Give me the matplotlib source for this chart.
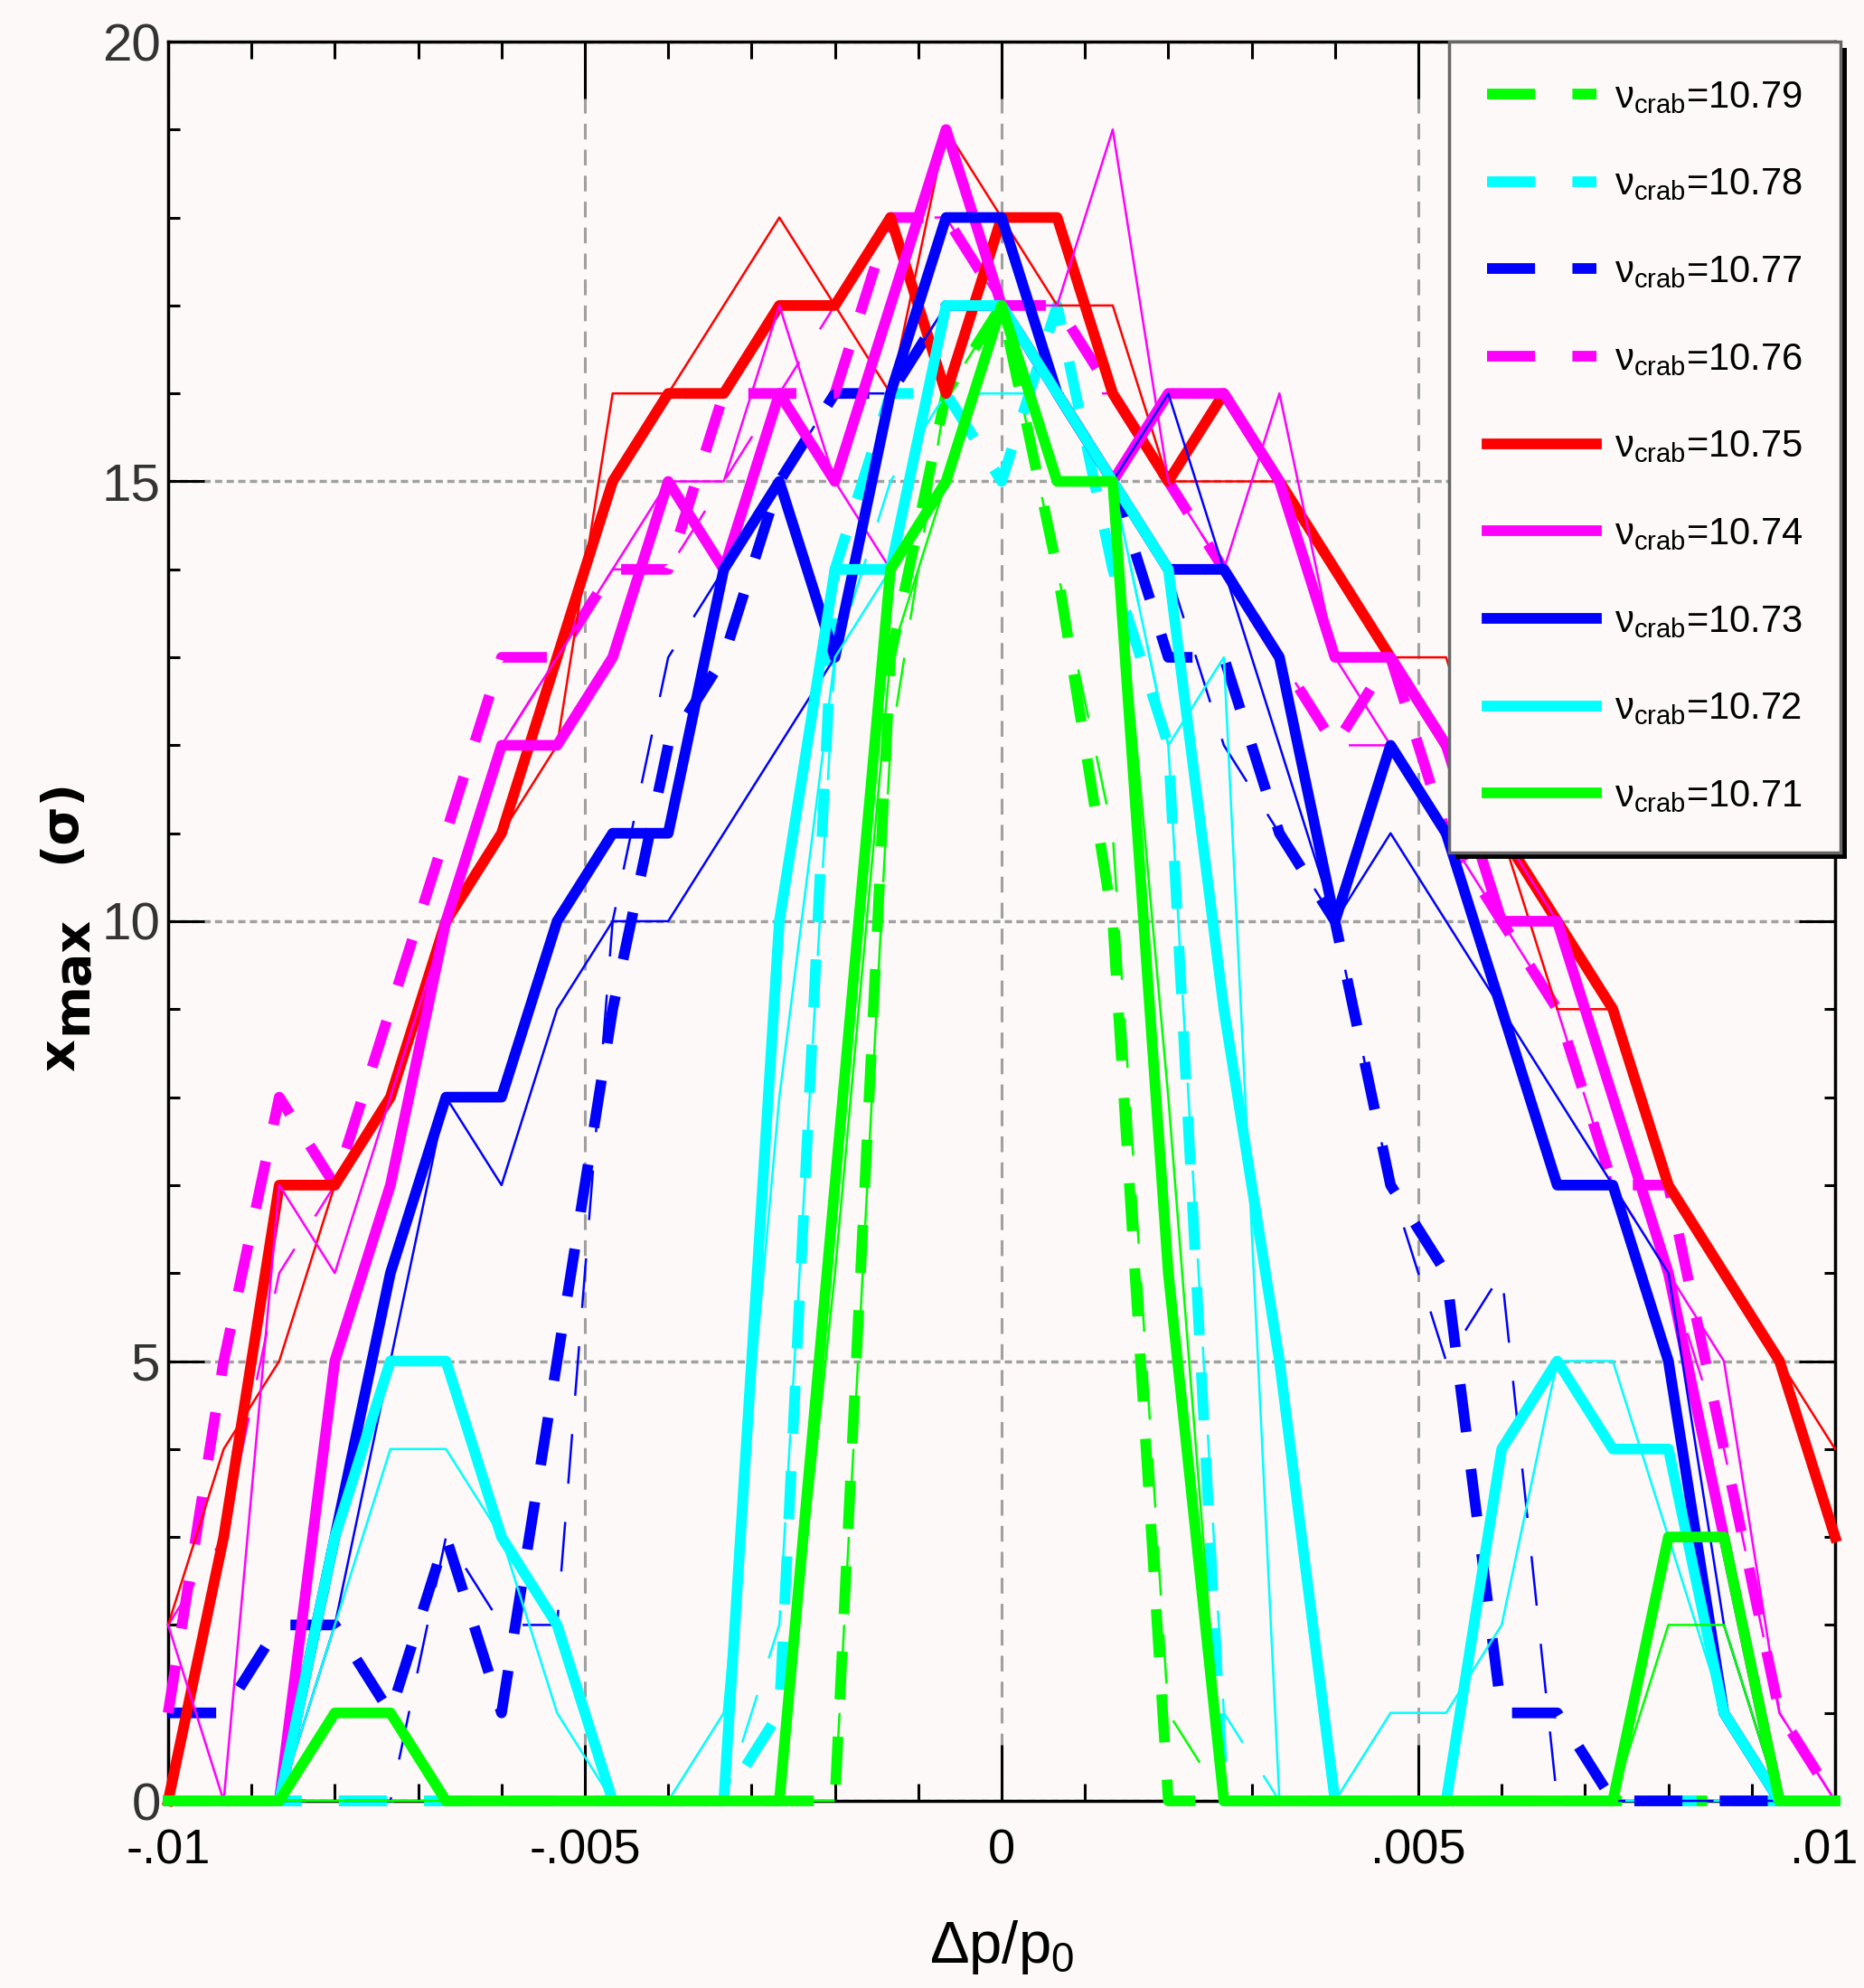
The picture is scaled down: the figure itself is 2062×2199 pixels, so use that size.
# xmax vs dp/p0 for several crab-cavity tunes (thick = one set, thin = second set)
import numpy as np
import matplotlib.pyplot as plt
from matplotlib.ticker import MultipleLocator, FixedLocator, FixedFormatter
from matplotlib.patches import Rectangle
from matplotlib.transforms import ScaledTranslation

plt.rcParams['mathtext.fontset'] = 'custom'
plt.rcParams['mathtext.rm'] = 'Liberation Sans'
plt.rcParams['mathtext.it'] = 'Liberation Sans'
plt.rcParams['mathtext.bf'] = 'DejaVu Sans:bold'

# momentum offsets (31 points)
dp = np.linspace(-0.01, 0.01, 31)

nu_crab = ["10.79", "10.78", "10.77", "10.76", "10.75", "10.74", "10.73", "10.72", "10.71"]
line_colors = ["#00ff00", "#00ffff", "#0000ff", "#ff00ff", "#ff0000",
               "#ff00ff", "#0000ff", "#00ffff", "#00ff00"]
dashed = [True, True, True, True, False, False, False, False, False]

# thick curves
thick_1079 = [0]*13 + [13, 16, 17, 14, 10] + [0]*13
thick_1078 = [0]*11 + [1, 14, 16, 16, 15, 17, 14, 12] + [0]*12
thick_1077 = [1, 1, 2, 2, 1, 3, 1, 5, 9, 12, 13, 15, 16, 16, 17, 17, 16, 15, 13, 13,
              11, 10, 7, 6, 1, 1, 0, 0, 0, 0, 0]
thick_1076 = [1, 5, 8, 7, 9, 11, 13, 13, 14, 14, 16, 16, 16, 18, 18, 17, 17, 16, 15, 14,
              13, 12, 13, 11, 10, 9, 7, 7, 4, 1, 0]
thick_1075 = [0, 3, 7, 7, 8, 10, 11, 13, 15, 16, 16, 17, 17, 18, 16, 18, 18, 16, 15, 16,
              15, 14, 13, 12, 11, 10, 9, 7, 6, 5, 3]
thick_1074 = [0, 0, 0, 5, 7, 10, 12, 12, 13, 15, 14, 16, 15, 17, 19, 17, 16, 15, 16, 16,
              15, 13, 13, 12, 10, 10, 8, 6, 3, 0, 0]
thick_1073 = [0, 0, 0, 3, 6, 8, 8, 10, 11, 11, 14, 15, 13, 16, 18, 18, 16, 15, 14, 14,
              13, 10, 12, 11, 9, 7, 7, 5, 1, 0, 0]
thick_1072 = [0, 0, 0, 3, 5, 5, 3, 2, 0, 0, 0, 10, 14, 14, 17, 17, 16, 15, 14, 9,
              5, 0, 0, 0, 4, 5, 4, 4, 1, 0, 0]
thick_1071 = [0, 0, 0, 1, 1, 0, 0, 0, 0, 0, 0, 0, 7, 14, 15, 17, 15, 15, 6, 0,
              0, 0, 0, 0, 0, 0, 0, 3, 3, 0, 0]

# thin curves
thin_1079 = [0]*13 + [12, 16, 17, 14, 11, 1] + [0]*12
thin_1078 = [0]*11 + [2, 13, 15, 16, 16, 16, 15, 12, 1] + [0]*11
thin_1077 = [0, 0, 0, 0, 0, 3, 2, 2, 10, 13, 14, 15, 16, 16, 17, 17, 16, 15, 14, 12,
             11, 10, 7, 5, 6, 0, 0, 0, 0, 0, 0]
thin_1076 = [2, 3, 6, 7, 8, 10, 12, 13, 14, 14, 15, 16, 17, 18, 18, 17, 16, 16, 15, 14,
             13, 12, 12, 11, 10, 9, 7, 6, 4, 1, 0]
thin_1075 = [2, 4, 5, 7, 8, 10, 11, 12, 16, 16, 17, 18, 17, 16, 19, 18, 17, 17, 15, 15,
             15, 14, 13, 13, 11, 9, 9, 7, 6, 5, 4]
thin_1074 = [2, 0, 7, 6, 8, 10, 12, 13, 14, 15, 15, 17, 15, 14, 17, 17, 17, 19, 15, 14,
             16, 13, 12, 11, 11, 10, 8, 6, 5, 1, 0]
thin_1073 = [0, 0, 0, 2, 5, 8, 7, 9, 10, 10, 11, 12, 13, 16, 17, 17, 15, 15, 16, 14,
             12, 10, 11, 10, 9, 8, 7, 6, 2, 0, 0]
thin_1072 = [0, 0, 0, 2, 4, 4, 3, 1, 0, 0, 1, 8, 13, 14, 17, 17, 16, 15, 12, 13,
             0, 0, 1, 1, 2, 5, 5, 3, 1, 0, 0]
thin_1071 = [0]*12 + [6, 13, 15, 17, 15, 15, 8] + [0]*8 + [2, 2, 0, 0]

thick_sets = [thick_1079, thick_1078, thick_1077, thick_1076, thick_1075,
              thick_1074, thick_1073, thick_1072, thick_1071]
thin_sets = [thin_1079, thin_1078, thin_1077, thin_1076, thin_1075,
             thin_1074, thin_1073, thin_1072, thin_1071]

bg = "#fcf9f8"
sans = ["Liberation Sans", "DejaVu Sans"]
W, H = 2062, 2199

fig = plt.figure(figsize=(W/100, H/100), dpi=100, facecolor=bg)
ax = fig.add_axes([186/W, 1 - 1992/H, 1844/W, 1946/H])
ax.set_facecolor(bg)

for lab, thick, thin, col, dsh in zip(nu_crab, thick_sets, thin_sets, line_colors, dashed):
    ls_thick = (0, (4.5, 3.5)) if dsh else "-"
    ls_thin = (0, (22, 17)) if dsh else "-"
    ax.plot(dp, thick, color=col, lw=8.5, ls=ls_thick, zorder=3, clip_on=False,
            dash_capstyle="butt", label="ν$_{crab}$=" + lab)
    ax.plot(dp, thin, color=col, lw=1.8, ls=ls_thin, zorder=3, clip_on=False)

ax.set_xlim(-0.01, 0.01)
ax.set_ylim(0, 20)

ax.xaxis.set_major_locator(FixedLocator([-0.01, -0.005, 0, 0.005, 0.01]))
ax.xaxis.set_major_formatter(FixedFormatter(["-.01", "-.005", "0", ".005", ".01"]))
ax.xaxis.set_minor_locator(MultipleLocator(0.001))
ax.yaxis.set_major_locator(MultipleLocator(5))
ax.yaxis.set_minor_locator(MultipleLocator(1))

ax.tick_params(which="both", direction="in", top=True, right=True, width=2.2, color="black")
ax.tick_params(axis="x", which="major", length=45, pad=22, labelsize=39)
ax.tick_params(axis="x", which="minor", length=14)
ax.tick_params(axis="y", which="major", length=29, pad=6, labelsize=42, labelcolor="#333333")
ax.tick_params(axis="y", which="minor", length=9)
for t in ax.get_xticklabels() + ax.get_yticklabels():
    t.set_fontfamily(sans)

ax.set_axisbelow(True)
ax.xaxis.grid(True, color="#a0a0a0", lw=2.2, ls=(0, (5.7, 3.7)))
ax.yaxis.grid(True, color="#a0a0a0", lw=2.5, ls=(0, (2.3, 1.4)))

for s in ax.spines.values():
    s.set_linewidth(2.5)
    s.set_color("black")

# y label built from pieces so that "max" keeps the size of "x"
ylab = dict(rotation=90, rotation_mode="anchor", ha="left", va="baseline",
            fontsize=40, fontweight="bold", family="DejaVu Sans", transform=fig.transFigure)
fig.text(82/W, 1 - 1185/H, "x", **ylab)
fig.text(95/W, 1 - 1144/H, "max", **ylab)
fig.text(82/W, 1 - 955/H, "(σ)", **ylab)

ax.text(0.5, -0.083, "Δp/p$_0$", transform=ax.transAxes, ha="center", va="center",
        fontsize=47, family=sans)

handles, labels = ax.get_legend_handles_labels()
leg = ax.legend(handles, labels, loc="upper right", bbox_to_anchor=(1.0035, 1.0),
                borderaxespad=0, prop={"family": sans, "size": 30},
                handlelength=2.9, handletextpad=0.5, labelspacing=1.36,
                borderpad=1.0, fancybox=False, framealpha=1,
                facecolor=bg, edgecolor="#666666")
leg.get_frame().set_linewidth(2.5)
leg.set_zorder(6)

fig.canvas.draw()
# keep the last x tick label inside the picture
last = ax.get_xticklabels()[-1]
last.set_transform(last.get_transform() + ScaledTranslation(-12/100, 0, fig.dpi_scale_trans))

# drop shadow on the right/bottom of the legend box
bb = leg.get_window_extent().transformed(fig.transFigure.inverted())
shadow = Rectangle((bb.x0 + 7/W, bb.y0 - 7/H), bb.width, bb.height,
                   transform=fig.transFigure, facecolor="black", edgecolor="none",
                   zorder=5.9, clip_on=False)
ax.add_artist(shadow)

fig.savefig("out.png", dpi=100, facecolor=bg)
